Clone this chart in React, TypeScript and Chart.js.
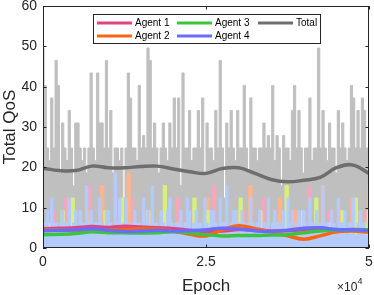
import React, { useEffect, useRef } from "react";
import { Chart, registerables } from "chart.js";

Chart.register(...registerables);

// ---------- data ----------
const X_MAX = 50000;
const X_TICKS = [0, 25000, 50000];
const Y_TICKS = [0, 10, 20, 30, 40, 50, 60];

const SMOOTH_EPOCHS = [
  0, 2500, 5000, 7500, 10000, 12500, 15000, 17500, 20000, 22500, 25000,
  27500, 30000, 32500, 35000, 37500, 40000, 42500, 45000, 47500, 50000,
];
const TOTAL_SMOOTH = [
  19.8, 19.2, 19.2, 20.3, 19.9, 19.9, 20.2, 20.3, 19.6, 18.9, 18.5,
  19.7, 19.9, 18.5, 17.0, 16.4, 16.8, 17.5, 19.9, 20.6, 18.5,
];
const AGENT1_SMOOTH = [
  4.8, 4.9, 5.0, 5.3, 5.1, 5.4, 5.2, 5.0, 4.8, 4.4, 4.1,
  4.2, 4.6, 4.4, 4.2, 4.3, 4.5, 4.6, 4.4, 4.6, 4.5,
];
const AGENT2_SMOOTH = [
  4.6, 4.5, 4.4, 4.2, 4.5, 4.6, 4.8, 4.7, 4.2, 3.4, 3.0,
  4.5, 5.5, 4.8, 4.0, 3.0, 2.2, 3.0, 4.0, 4.2, 3.9,
];
const AGENT3_SMOOTH = [
  3.3, 3.4, 3.6, 4.0, 3.8, 3.8, 3.7, 3.8, 4.0, 3.7, 3.3,
  3.0, 3.1, 3.1, 3.2, 3.3, 3.8, 4.2, 4.4, 4.5, 4.5,
];
const AGENT4_SMOOTH = [
  4.3, 4.4, 4.5, 4.8, 4.4, 4.1, 4.2, 4.4, 4.2, 4.3, 4.5,
  4.9, 4.7, 4.3, 4.1, 4.4, 4.9, 5.0, 4.6, 4.5, 4.3,
];

const TOTAL_RAW = [
  49.6, 40.3, 24.8, 21.7, 37.2, 24.8, 46.5, 40.3, 18.6, 31,
  24.8, 21.7, 34.1, 24.8, 15.5, 31, 31, 24.8, 21.7, 24.8,
  18.6, 24.8, 43.4, 24.8, 21.7, 43.4, 31, 31, 24.8, 46.5,
  24.8, 34.1, 18.6, 24.8, 24.8, 21.7, 24.8, 12.4, 24.8, 43.4,
  37.2, 24.8, 24.8, 21.7, 40.3, 24.8, 27.9, 24.8, 49.6, 46.5,
  24.8, 31, 24.8, 18.6, 24.8, 31, 24.8, 21.7, 31, 24.8,
  37.2, 24.8, 37.2, 15.5, 43.4, 24.8, 24.8, 34.1, 21.7, 24.8,
  24.8, 34.1, 24.8, 37.2, 18.6, 31, 24.8, 24.8, 21.7, 34.1,
  24.8, 46.5, 24.8, 12.4, 31, 24.8, 34.1, 24.8, 21.7, 34.1,
  24.8, 24.8, 40.3, 24.8, 18.6, 37.2, 24.8, 24.8, 21.7, 24.8,
  24.8, 31, 24.8, 27.9, 24.8, 40.3, 21.7, 27.9, 24.8, 15.5,
  27.9, 24.8, 24.8, 21.7, 34.1, 40.3, 24.8, 34.1, 24.8, 18.6,
  24.8, 24.8, 37.2, 21.7, 24.8, 24.8, 49.6, 24.8, 34.1, 24.8,
  21.7, 31, 24.8, 24.8, 18.6, 34.1, 24.8, 31, 24.8, 21.7,
  24.8, 40.3, 37.2, 24.8, 34.1, 24.8, 37.2, 34.1, 24.8, 24.8,
];
const AGENT1_RAW = [
  3.1, 0, 3.1, 9.3, 0, 3.1, 0, 12.4, 3.1, 0,
  3.1, 0, 6.2, 3.1, 15.5, 0, 3.1, 0, 3.1, 9.3,
  0, 3.1, 0, 3.1, 6.2, 0, 3.1, 12.4, 0, 3.1,
  0, 3.1, 0, 9.3, 3.1, 0, 3.1, 0, 3.1, 6.2,
  0, 12.4, 3.1, 0, 3.1, 0, 9.3, 3.1, 0, 3.1,
  0, 3.1, 15.5, 0, 3.1, 0, 3.1, 6.2, 0, 3.1,
  0, 9.3, 3.1, 0, 3.1, 0, 3.1, 12.4, 0, 3.1,
  0, 3.1, 6.2, 0, 3.1, 0, 9.3, 3.1, 0, 3.1,
  0, 15.5, 3.1, 0, 3.1, 0, 3.1, 9.3, 0, 3.1,
  6.2, 0, 3.1, 0, 12.4, 3.1, 0, 3.1, 9.3, 3.1,
];
const AGENT2_RAW = [
  0, 3.1, 0, 6.2, 3.1, 0, 3.1, 0, 12.4, 3.1,
  0, 3.1, 0, 3.1, 9.3, 0, 3.1, 0, 15.5, 3.1,
  0, 3.1, 6.2, 0, 3.1, 0, 18.6, 3.1, 0, 3.1,
  0, 9.3, 3.1, 0, 3.1, 0, 3.1, 12.4, 0, 3.1,
  0, 3.1, 6.2, 0, 3.1, 0, 9.3, 3.1, 0, 3.1,
  12.4, 0, 3.1, 0, 3.1, 6.2, 0, 3.1, 0, 9.3,
  3.1, 0, 3.1, 15.5, 0, 3.1, 0, 3.1, 6.2, 0,
  3.1, 0, 12.4, 3.1, 0, 3.1, 0, 9.3, 3.1, 0,
  3.1, 0, 3.1, 6.2, 0, 15.5, 3.1, 0, 3.1, 0,
  9.3, 3.1, 0, 3.1, 12.4, 0, 3.1, 0, 6.2, 15.5,
];
const AGENT3_RAW = [
  0, 3.1, 6.2, 0, 3.1, 0, 9.3, 3.1, 0, 12.4,
  3.1, 0, 3.1, 0, 6.2, 3.1, 0, 3.1, 0, 9.3,
  3.1, 0, 3.1, 0, 12.4, 3.1, 0, 3.1, 6.2, 0,
  3.1, 0, 9.3, 3.1, 0, 3.1, 0, 15.5, 3.1, 0,
  3.1, 6.2, 0, 3.1, 0, 3.1, 12.4, 0, 3.1, 0,
  9.3, 3.1, 0, 3.1, 0, 6.2, 3.1, 0, 3.1, 0,
  12.4, 3.1, 0, 3.1, 0, 3.1, 9.3, 0, 3.1, 0,
  3.1, 6.2, 0, 3.1, 15.5, 0, 3.1, 0, 3.1, 9.3,
  0, 3.1, 0, 12.4, 3.1, 0, 3.1, 6.2, 0, 3.1,
  0, 9.3, 3.1, 0, 3.1, 12.4, 0, 3.1, 6.2, 9.3,
];
const AGENT4_RAW = [
  6.2, 6.2, 9.3, 3.1, 12.4, 6.2, 6.2, 3.1, 6.2, 9.3,
  6.2, 6.2, 12.4, 3.1, 6.2, 9.3, 3.1, 9.3, 6.2, 6.2,
  15.5, 6.2, 9.3, 3.1, 6.2, 6.2, 12.4, 6.2, 3.1, 9.3,
  9.3, 6.2, 3.1, 18.6, 6.2, 12.4, 3.1, 6.2, 12.4, 6.2,
  3.1, 6.2, 9.3, 6.2, 6.2, 3.1, 12.4, 6.2, 9.3, 3.1,
  15.5, 6.2, 6.2, 3.1, 9.3, 6.2, 3.1, 9.3, 12.4, 6.2,
  3.1, 6.2, 6.2, 9.3, 3.1, 6.2, 12.4, 9.3, 3.1, 6.2,
  9.3, 6.2, 6.2, 3.1, 12.4, 6.2, 3.1, 9.3, 9.3, 6.2,
  3.1, 12.4, 6.2, 6.2, 15.5, 3.1, 6.2, 9.3, 9.3, 3.1,
  6.2, 9.3, 6.2, 3.1, 6.2, 12.4, 6.2, 3.1, 6.2, 9.3,
  3.1, 6.2, 6.2, 12.4, 3.1, 6.2, 9.3, 6.2, 3.1, 6.2,
  9.3, 3.1, 12.4, 6.2, 9.3, 3.1, 6.2, 9.3, 3.1, 9.3,
  6.2, 3.1, 12.4, 6.2, 6.2, 9.3, 3.1, 6.2, 15.5, 6.2,
  6.2, 3.1, 9.3, 6.2, 3.1, 12.4, 6.2, 6.2, 9.3, 3.1,
  6.2, 6.2, 12.4, 3.1, 6.2, 9.3, 6.2, 6.2, 3.1, 6.2,
];

const LEGEND = [
  { label: "Agent 1", color: "#E2447E", col: 0, row: 0 },
  { label: "Agent 2", color: "#FF6411", col: 0, row: 1 },
  { label: "Agent 3", color: "#3CC43C", col: 1, row: 0 },
  { label: "Agent 4", color: "#6B6BFF", col: 1, row: 1 },
  { label: "Total", color: "#6E6E6E", col: 2, row: 0 },
];

const FONT = "'Liberation Sans', Arial, Helvetica, sans-serif";
const AXIS_COLOR = "#262626";

function rawPoints(values: number[]) {
  const n = values.length;
  return values.map((y, i) => ({ x: (i * X_MAX) / (n - 1), y }));
}
function smoothPoints(values: number[]) {
  return values.map((y, i) => ({ x: SMOOTH_EPOCHS[i], y }));
}

const framePlugin = {
  id: "matlabFrame",
  afterDraw(chart: any) {
    const ctx = chart.ctx as CanvasRenderingContext2D;
    const { left, right, top, bottom } = chart.chartArea;
    const xs = chart.scales.x;
    const ys = chart.scales.y;
    ctx.save();
    ctx.strokeStyle = AXIS_COLOR;
    ctx.lineWidth = 1;
    ctx.strokeRect(left + 0.5, top + 0.5, right - left - 1, bottom - top - 1);
    const tl = 3.5;
    ctx.beginPath();
    X_TICKS.forEach((v) => {
      const px = Math.round(xs.getPixelForValue(v)) + 0.5;
      ctx.moveTo(px, bottom);
      ctx.lineTo(px, bottom - tl);
      ctx.moveTo(px, top);
      ctx.lineTo(px, top + tl);
    });
    Y_TICKS.forEach((v) => {
      const py = Math.round(ys.getPixelForValue(v)) + 0.5;
      ctx.moveTo(left, py);
      ctx.lineTo(left + tl, py);
      ctx.moveTo(right, py);
      ctx.lineTo(right - tl, py);
    });
    ctx.stroke();

    ctx.fillStyle = AXIS_COLOR;
    ctx.font = `17px ${FONT}`;
    ctx.textAlign = "center";
    ctx.textBaseline = "alphabetic";
    ctx.fillText("Epoch", (left + right) / 2, 291);
    ctx.save();
    ctx.translate(15, (top + bottom) / 2);
    ctx.rotate(-Math.PI / 2);
    ctx.fillText("Total QoS", 0, 0);
    ctx.restore();

    ctx.textAlign = "left";
    ctx.font = `12px ${FONT}`;
    ctx.fillText("\u00d710", 337, 291);
    ctx.font = `9px ${FONT}`;
    ctx.fillText("4", 357.5, 284);

    const bx = 93, by = 14, bw = 228, bh = 30;
    ctx.fillStyle = "#ffffff";
    ctx.fillRect(bx, by, bw, bh);
    ctx.strokeStyle = AXIS_COLOR;
    ctx.lineWidth = 1;
    ctx.strokeRect(bx + 0.5, by + 0.5, bw - 1, bh - 1);
    const colX = [97, 177, 258];
    const rowY = [23, 36];
    ctx.font = `10px ${FONT}`;
    ctx.textBaseline = "middle";
    LEGEND.forEach((e) => {
      const x0 = colX[e.col];
      const y0 = rowY[e.row];
      ctx.strokeStyle = e.color;
      ctx.lineWidth = 3;
      ctx.beginPath();
      ctx.moveTo(x0, y0);
      ctx.lineTo(x0 + 35, y0);
      ctx.stroke();
      ctx.fillStyle = "#000000";
      ctx.fillText(e.label, x0 + 38, y0 + 0.5);
    });
    ctx.restore();
  },
};

export default function App() {
  const ref = useRef<HTMLCanvasElement | null>(null);
  useEffect(() => {
    if (!ref.current) return;
    Chart.defaults.font.family = FONT;
    const rawDs = (label: string, values: number[], color: string, order: number) => ({
      label,
      data: rawPoints(values),
      borderColor: color,
      backgroundColor: color,
      borderWidth: 1,
      pointRadius: 0,
      stepped: "middle" as const,
      fill: "origin",
      order,
    });
    const smoothDs = (label: string, values: number[], color: string, order: number) => ({
      label,
      data: smoothPoints(values),
      borderColor: color,
      backgroundColor: color,
      borderWidth: 3.5,
      pointRadius: 0,
      tension: 0.4,
      fill: false,
      order,
    });
    const chart = new Chart(ref.current, {
      type: "line",
      data: {
        datasets: [
          smoothDs("Total", TOTAL_SMOOTH, "#6E6E6E", 0),
          smoothDs("Agent 4", AGENT4_SMOOTH, "#6B6BFF", 1),
          smoothDs("Agent 3", AGENT3_SMOOTH, "#3CC43C", 2),
          smoothDs("Agent 2", AGENT2_SMOOTH, "#FF6411", 3),
          smoothDs("Agent 1", AGENT1_SMOOTH, "#E2447E", 4),
          rawDs("Agent 4 raw", AGENT4_RAW, "#B3CBFF", 5),
          rawDs("Agent 3 raw", AGENT3_RAW, "#D6F07E", 6),
          rawDs("Agent 2 raw", AGENT2_RAW, "#FFB48C", 7),
          rawDs("Agent 1 raw", AGENT1_RAW, "#F5A8BC", 8),
          rawDs("Total raw", TOTAL_RAW, "#BFBFBF", 9),
        ] as any,
      },
      options: {
        responsive: false,
        animation: false,
        events: [],
        layout: { padding: { top: 6, right: 5, left: 0, bottom: 0 } },
        plugins: { legend: { display: false }, tooltip: { enabled: false } },
        scales: {
          x: {
            type: "linear",
            min: 0,
            max: X_MAX,
            grid: { display: false, drawTicks: false },
            border: { display: false },
            ticks: {
              stepSize: 25000,
              padding: 6,
              color: AXIS_COLOR,
              font: { size: 14, family: FONT },
              maxRotation: 0,
              callback: (v: any) => String(Number(v) / 10000),
            },
            afterFit: (s: any) => {
              s.height = 47;
              s.paddingLeft = 0;
              s.paddingRight = 0;
            },
          },
          y: {
            type: "linear",
            min: 0,
            max: 60,
            grid: { display: false, drawTicks: false },
            border: { display: false },
            ticks: {
              stepSize: 10,
              padding: 6,
              color: AXIS_COLOR,
              font: { size: 14, family: FONT },
            },
            afterFit: (s: any) => {
              s.width = 43;
              s.paddingTop = 0;
              s.paddingBottom = 0;
            },
          },
        },
      },
      plugins: [framePlugin],
    });
    return () => chart.destroy();
  }, []);
  return (
    <div style={{ position: "fixed", left: 0, top: 0, width: 374, height: 295, background: "#fff" }}>
      <canvas ref={ref} width={374} height={295} style={{ display: "block" }} />
    </div>
  );
}
